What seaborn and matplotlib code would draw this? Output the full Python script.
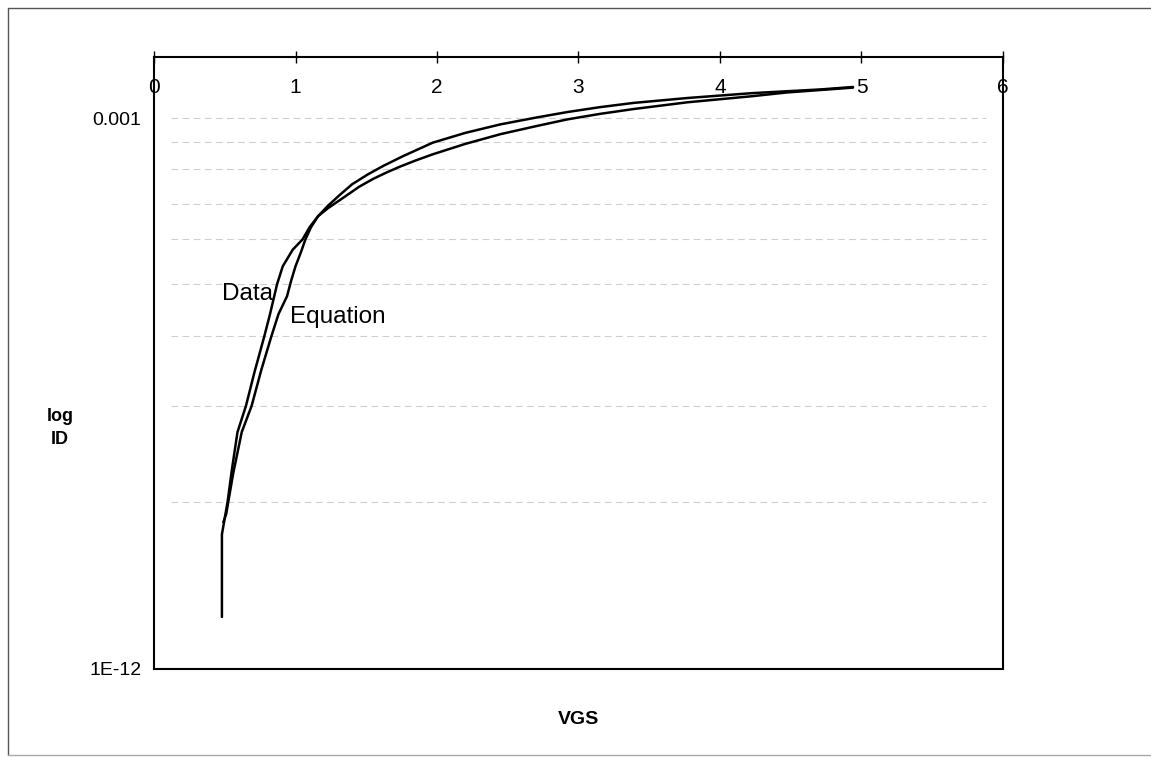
import numpy as np
import pandas as pd
import matplotlib
matplotlib.use("Agg")
import matplotlib.pyplot as plt
from matplotlib.lines import Line2D
import seaborn as sns

# Measured drain current (log10 of ID) against gate voltage
data_vgs = [0.48, 0.48, 0.52, 0.55, 0.59, 0.65, 0.71, 0.78, 0.82, 0.87, 0.91, 0.98,
            1.05, 1.10, 1.16, 1.23, 1.31, 1.40, 1.51, 1.62, 1.76, 1.97, 2.20, 2.45,
            2.70, 2.92, 3.15, 3.39, 3.77, 4.23, 4.71, 4.94]
data_log_id = [-11.15, -9.80, -9.27, -8.75, -8.13, -7.70, -7.15, -6.56, -6.20, -5.71,
               -5.42, -5.15, -4.98, -4.78, -4.60, -4.43, -4.26, -4.08, -3.92, -3.78,
               -3.62, -3.40, -3.24, -3.10, -2.99, -2.90, -2.82, -2.75, -2.67, -2.59,
               -2.53, -2.49]

# Model equation for the same device
eq_vgs = [0.49, 0.51, 0.56, 0.62, 0.69, 0.76, 0.83, 0.88, 0.94, 0.97, 1.00, 1.04,
          1.07, 1.11, 1.16, 1.23, 1.35, 1.45, 1.55, 1.65, 1.74, 1.85, 1.97, 2.20,
          2.45, 2.70, 2.92, 3.15, 3.39, 3.77, 4.23, 4.47, 4.94]
eq_log_id = [-9.60, -9.47, -8.80, -8.13, -7.70, -7.10, -6.56, -6.20, -5.91, -5.65,
             -5.42, -5.18, -4.98, -4.78, -4.60, -4.47, -4.28, -4.12, -3.99, -3.88,
             -3.79, -3.69, -3.59, -3.42, -3.26, -3.13, -3.02, -2.93, -2.85, -2.74,
             -2.64, -2.58, -2.50]

x_ticks = [0, 1, 2, 3, 4, 5, 6]
y_ticks = [1e-12, 1e-3]
y_tick_labels = ["1E-12", "0.001"]
grid_levels = [1e-3, 4.06e-4, 1.47e-4, 3.94e-5, 1.06e-5, 1.95e-6, 2.75e-7, 1.98e-8, 5.35e-10]

df = pd.concat([
    pd.DataFrame({"VGS": data_vgs, "ID": np.power(10.0, data_log_id), "series": "Data"}),
    pd.DataFrame({"VGS": eq_vgs, "ID": np.power(10.0, eq_log_id), "series": "Equation"}),
], ignore_index=True)

sns.set_style("white")
plt.rcParams["font.family"] = ["Liberation Sans", "DejaVu Sans"]
plt.rcParams["text.color"] = "black"
plt.rcParams["xtick.color"] = "black"
plt.rcParams["ytick.color"] = "black"

fig = plt.figure(figsize=(11.51, 7.57), dpi=100)
fig.patch.set_facecolor("white")
ax = fig.add_axes([0.1338, 0.1163, 0.7376, 0.8084])

# page frame
for xs, ys, c in [([0.007, 0.007], [0.003, 0.99], "#555555"),
                  ([0.007, 1.0], [0.99, 0.99], "#555555"),
                  ([0.007, 1.0], [0.003, 0.003], "#aaaaaa")]:
    fig.add_artist(Line2D(xs, ys, transform=fig.transFigure, color=c, lw=1.0))

for lvl in grid_levels:
    ax.axhline(lvl, xmin=0.02, xmax=0.98, color="#cfcfcf", lw=0.8, ls=(0, (6, 4)), zorder=0)

sns.lineplot(data=df, x="VGS", y="ID", units="series", estimator=None, sort=False,
             color="black", lw=1.8, ax=ax, legend=False)

ax.set_yscale("log")
ax.set_xlim(0, 6)
ax.set_ylim(1e-12, 1e-2)
ax.minorticks_off()

ax.set_yticks(y_ticks)
ax.set_yticklabels(y_tick_labels, fontsize=14, color="black")
ax.tick_params(axis="y", direction="out", length=5, width=1, pad=4, color="black")

ax.xaxis.tick_top()
ax.set_xticks(x_ticks)
ax.set_xticklabels([])
ax.tick_params(axis="x", direction="inout", length=8, width=1, color="black")
for v in x_ticks:
    ax.annotate(str(v), xy=(v, 1), xycoords=("data", "axes fraction"),
                xytext=(0, -22), textcoords="offset points",
                ha="center", va="center", fontsize=15, color="black")

for side in ["left", "right", "top", "bottom"]:
    ax.spines[side].set_visible(True)
    ax.spines[side].set_color("black")
    ax.spines[side].set_linewidth(1.5)

ax.set_xlabel("")
ax.set_ylabel("")
fig.text(578 / 1151, 1 - 719 / 757, "VGS", ha="center", va="center",
         fontsize=14, fontweight="bold", color="black")
fig.text(60 / 1151, 1 - 428 / 757, "log\nID", ha="center", va="center",
         fontsize=13, fontweight="bold", linespacing=1.5, color="black")

ax.text(0.48, 10 ** -5.87, "Data", fontsize=17.5, ha="left", va="center", color="black")
ax.text(0.96, 10 ** -6.25, "Equation", fontsize=17.5, ha="left", va="center", color="black")

fig.savefig("out.png", dpi=100, facecolor="white")
